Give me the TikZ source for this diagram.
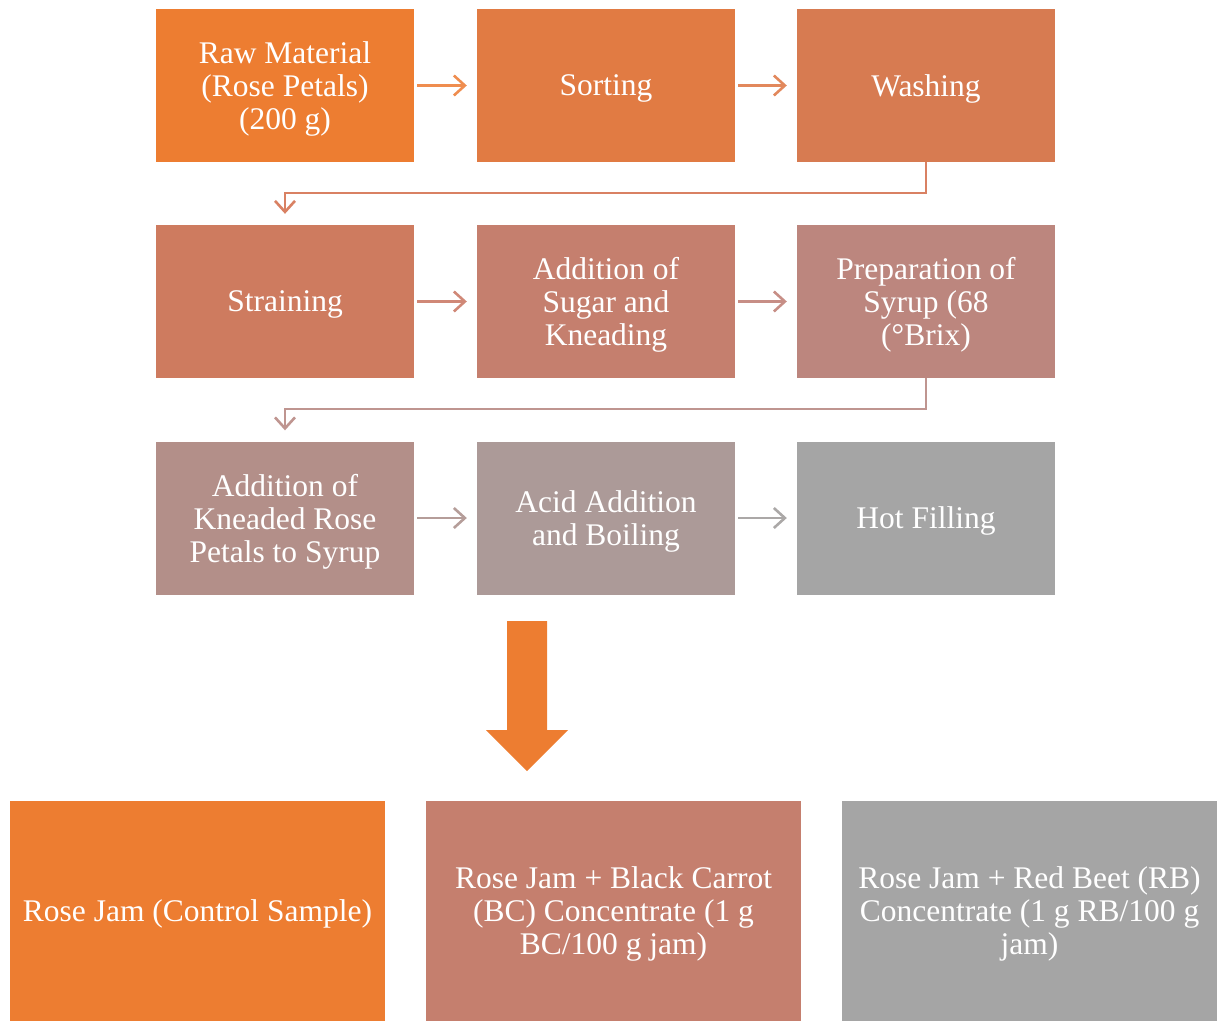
\documentclass[tikz,border=0pt]{standalone}
\usepackage{fontspec}
\setmainfont{Liberation Serif}
\usetikzlibrary{arrows.meta}
\definecolor{ca}{HTML}{ED7D31}
\definecolor{cb}{HTML}{E17B43}
\definecolor{cc}{HTML}{D77B51}
\definecolor{cd}{HTML}{CE7B5F}
\definecolor{ce}{HTML}{C57F6E}
\definecolor{cf}{HTML}{BC867E}
\definecolor{cg}{HTML}{B38F89}
\definecolor{ch}{HTML}{AC9A98}
\definecolor{ci}{HTML}{A5A5A5}
\definecolor{a1}{HTML}{EF8D4F}
\definecolor{a2}{HTML}{E2885C}
\definecolor{a3}{HTML}{D98163}
\definecolor{a4}{HTML}{D08877}
\definecolor{a5}{HTML}{C78E86}
\definecolor{a6}{HTML}{BF9590}
\definecolor{a7}{HTML}{B59D99}
\definecolor{a8}{HTML}{ABA8A7}
\tikzset{
  box/.style={rectangle, minimum width=258pt, minimum height=153pt, inner sep=0pt,
    text=white, align=center, font=\fontsize{31.5}{33}\selectfont, text depth=0pt},
  bigbox/.style={box, minimum width=375pt, minimum height=220pt, text depth=-3pt},
  conn/.style={line width=2.6pt, -{Straight Barb[length=11pt,width=20pt,line width=2.6pt]}},
  hconn/.style={conn, shorten <=3pt, shorten >=10pt}
}
\begin{document}
\begin{tikzpicture}[x=1pt,y=-1pt]
\useasboundingbox (0,0) rectangle (1224,1021);
% row 1
\node[box, fill=ca] (n1) at (285,85.5) {Raw Material\\(Rose Petals)\\(200 g)};
\node[box, fill=cb] (n2) at (606,85.5) {Sorting};
\node[box, fill=cc] (n3) at (926,85.5) {Washing};
% row 2
\node[box, fill=cd] (n4) at (285,301.5) {Straining};
\node[box, fill=ce] (n5) at (606,301.5) {Addition of\\Sugar and\\Kneading};
\node[box, fill=cf] (n6) at (926,301.5) {Preparation of\\Syrup (68\\(°Brix)};
% row 3
\node[box, fill=cg] (n7) at (285,518) {Addition of\\Kneaded Rose\\Petals to Syrup};
\node[box, fill=ch] (n8) at (606,518) {Acid Addition\\and Boiling};
\node[box, fill=ci] (n9) at (926,518) {Hot Filling};
% bottom
\node[bigbox, fill=ca] (r1) at (197.5,911) {Rose Jam (Control Sample)};
\node[bigbox, fill=ce] (r2) at (613.5,911) {Rose Jam + Black Carrot\\(BC) Concentrate (1 g\\BC/100 g jam)};
\node[bigbox, fill=ci] (r3) at (1029.5,911) {Rose Jam + Red Beet (RB)\\Concentrate (1 g RB/100 g\\jam)};
% connectors
\draw[hconn, a1] (n1) -- (n2);
\draw[hconn, a2] (n2) -- (n3);
\coordinate (m1) at (285,193);
\draw[conn, a3, shorten >=11pt] (n3.south) |- (m1) -- (n4.north);
\draw[hconn, a4] (n4) -- (n5);
\draw[hconn, a5] (n5) -- (n6);
\coordinate (m2) at (285,409);
\draw[conn, a6, shorten >=11pt] (n6.south) |- (m2) -- (n7.north);
\draw[hconn, a7] (n7) -- (n8);
\draw[hconn, a8] (n8) -- (n9);
% big arrow
\fill[ca] (507,621) -- (547,621) -- (547,730) -- (568,730) -- (527,771) -- (486,730) -- (507,730) -- cycle;
\end{tikzpicture}
\end{document}
